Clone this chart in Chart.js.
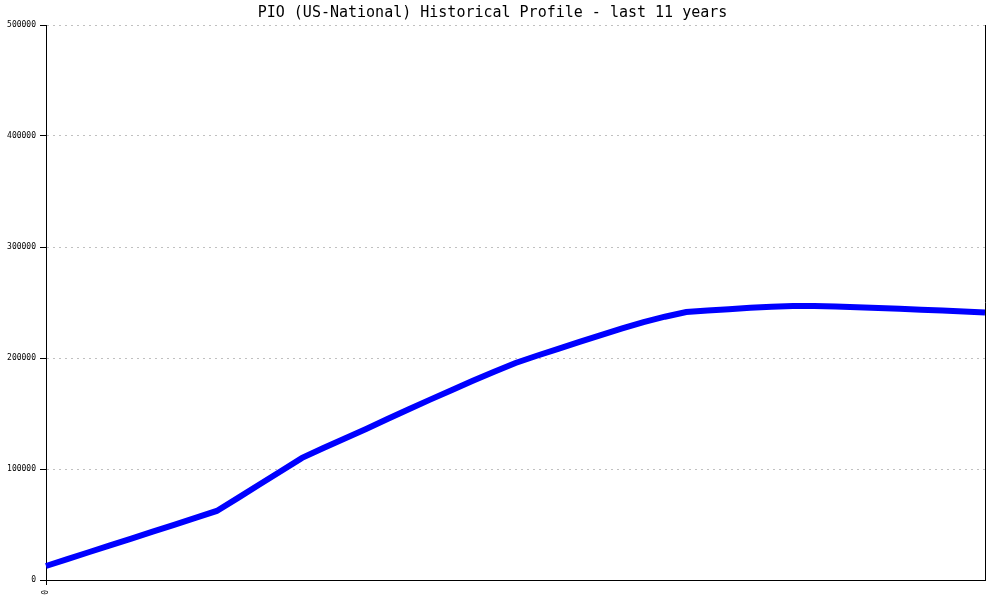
<!DOCTYPE html>
<html>
<head>
<meta charset="utf-8">
<script src="https://cdn.jsdelivr.net/npm/chart.js@4"></script>
<style>
  html, body { margin: 0; padding: 0; background: #fff; }
  #wrap { width: 1000px; height: 600px; }
</style>
</head>
<body>
<div id="wrap"><canvas id="profil"></canvas></div>
<script>
// data kuartalan, 11 tahun
const quarters = [
    '0', '', '', '', '', '', '', '', '', '', '', '', '', '', '', '',
    '', '', '', '', '', '', '', '', '', '', '', '', '', '', '', '',
    '', '', '', '', '', '', '', '', '', '', '', '', ''
];
const pioValues = [
    12600, 18800, 25000, 31200, 37300, 43500, 49700, 55900, 62200,
    74000, 86000, 98000, 110000, 119000, 127500, 136000, 145000,
    153800, 162500, 171000, 179500, 187600, 195500, 202000, 208300,
    214600, 220700, 226700, 232400, 237200, 241400, 242800, 244000,
    245200, 246200, 246800, 246800, 246300, 245700, 245000, 244300,
    243500, 242700, 241900, 241000
];
const yTicks = [0, 100000, 200000, 300000, 400000, 500000];

// garis tepi kanan
const rightBorder = {
    id: 'rightBorder',
    afterDraw(chart) {
        const { ctx, chartArea } = chart;
        ctx.save();
        ctx.strokeStyle = '#000';
        ctx.lineWidth = 1;
        ctx.beginPath();
        ctx.moveTo(chartArea.right + 0.5, chartArea.top);
        ctx.lineTo(chartArea.right + 0.5, chartArea.bottom);
        ctx.stroke();
        ctx.restore();
    }
};

new Chart(document.getElementById('profil'), {
    type: 'line',
    data: {
        labels: quarters,
        datasets: [{
            data: pioValues,
            borderColor: '#0000ff',
            borderWidth: 6,
            pointRadius: 0,
            tension: 0,
            fill: false
        }]
    },
    options: {
        responsive: true,
        maintainAspectRatio: false,
        animation: false,
        layout: { padding: { right: 15, left: 0, top: 0, bottom: 0 } },
        plugins: {
            legend: { display: false },
            tooltip: { enabled: false },
            title: {
                display: true,
                text: 'PIO (US-National) Historical Profile - last 11 years',
                color: '#000',
                font: { family: 'DejaVu Sans Mono', size: 15, weight: 'normal' },
                padding: { top: 4, bottom: 3 }
            }
        },
        scales: {
            x: {
                offset: false,
                afterFit(scale) { scale.height = 20; },
                border: { color: '#000', width: 1 },
                grid: {
                    drawOnChartArea: false,
                    tickLength: 5,
                    tickColor: (c) => c.index === 0 ? '#000' : 'rgba(0,0,0,0)'
                },
                ticks: {
                    autoSkip: false,
                    minRotation: 90,
                    maxRotation: 90,
                    padding: 5,
                    color: '#000',
                    font: { family: 'DejaVu Sans Mono', size: 8 }
                }
            },
            y: {
                min: 0,
                max: 500000,
                afterFit(scale) { scale.width = 46; },
                afterBuildTicks(scale) { scale.ticks = yTicks.map(v => ({ value: v })); },
                border: { color: '#000', width: 1, dash: [2, 4] },
                grid: {
                    color: '#c0c0c0',
                    tickColor: '#000',
                    tickLength: 6,
                    tickBorderDash: []
                },
                ticks: {
                    padding: 4,
                    color: '#000',
                    font: { family: 'DejaVu Sans Mono', size: 8 },
                    callback: (v) => String(v)
                }
            }
        }
    },
    plugins: [rightBorder]
});
</script>
</body>
</html>
